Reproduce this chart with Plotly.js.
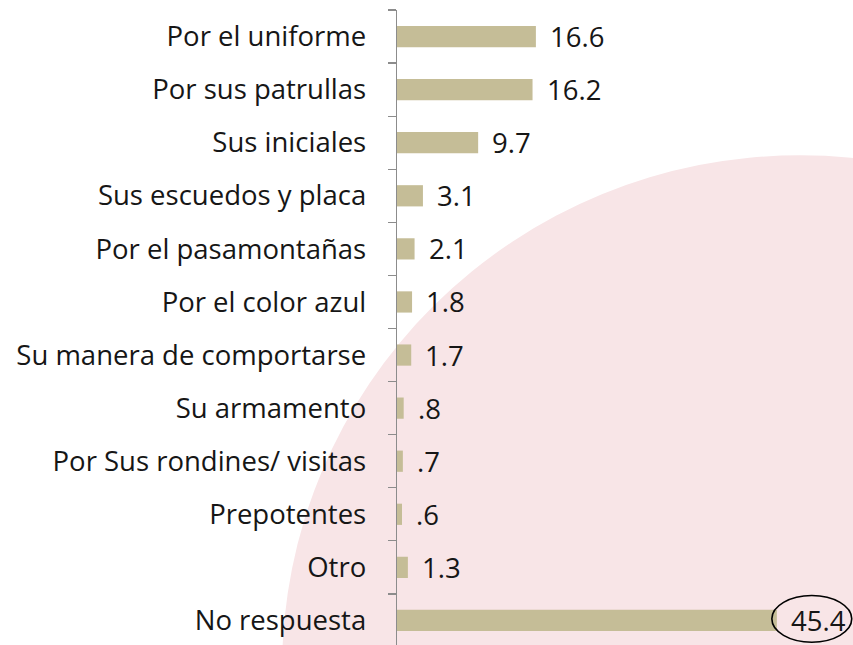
<!DOCTYPE html>
<html>
<head>
<meta charset="utf-8">
<script src="https://cdn.plot.ly/plotly-3.0.1.min.js"></script>
<style>html,body{margin:0;padding:0;overflow:hidden;background:#fff;}</style>
</head>
<body>
<div id="chart" style="width:853px;height:647px;"></div>
<script>
const categories = ["Por el uniforme","Por sus patrullas","Sus iniciales","Sus escuedos y placa","Por el pasamontañas","Por el color azul","Su manera de comportarse","Su armamento","Por Sus rondines/ visitas","Prepotentes","Otro","No respuesta"];
const values = [16.6,16.2,9.7,3.1,2.1,1.8,1.7,0.8,0.7,0.6,1.3,45.4];
const valueLabels = ["16.6","16.2","9.7","3.1","2.1","1.8","1.7",".8",".7",".6","1.3","45.4"];

const FONT = "Open Sans, Noto Sans, sans-serif";
const trace = {
  type: "bar",
  orientation: "h",
  x: values,
  y: categories,
  marker: {color: "#c5bd97"},
  hoverinfo: "none"
};
const annotations = categories.map((c, i) => ({
  x: values[i], y: c, xref: "x", yref: "y",
  text: valueLabels[i], showarrow: false,
  xanchor: "left", yanchor: "middle", xshift: 12,
  font: {family: FONT, size: 27.5, color: "#161616"}
}));
const layout = {
  width: 853, height: 647,
  margin: {l: 397, r: 0, t: 10, b: 0},
  paper_bgcolor: "#ffffff",
  plot_bgcolor: "rgba(0,0,0,0)",
  bargap: 0.6,
  showlegend: false,
  xaxis: {visible: false, range: [0, 54.5], fixedrange: true},
  yaxis: {
    type: "category",
    autorange: "reversed",
    showline: true, linecolor: "#8c8c8c", linewidth: 1.3,
    ticks: "outside", tickson: "boundaries", ticklen: 8, tickcolor: "#8c8c8c", tickwidth: 1.3,
    ticklabelstandoff: 24,
    tickfont: {family: FONT, size: 27.5, color: "#161616"},
    showgrid: false, zeroline: false
  },
  shapes: [
    {type: "circle", xref: "paper", yref: "paper", layer: "below",
     x0: -0.252, x1: 2.02, y0: -0.84, y1: 0.772,
     fillcolor: "#f8e5e7", line: {width: 0}},
    {type: "circle", xref: "x", yref: "y", layer: "above",
     x0: 44.8, x1: 54.35, y0: 10.53, y1: 11.41,
     fillcolor: "rgba(0,0,0,0)", line: {color: "#000", width: 1.6}}
  ],
  annotations: annotations
};
Plotly.newPlot("chart", [trace], layout, {displayModeBar: false, staticPlot: true});
</script>
</body>
</html>
